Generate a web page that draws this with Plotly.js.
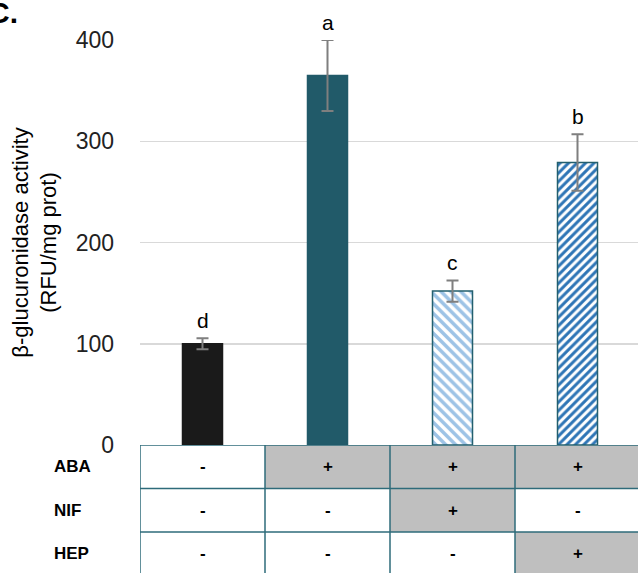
<!DOCTYPE html>
<html><head><meta charset="utf-8">
<script src="https://cdn.plot.ly/plotly-3.0.1.min.js"></script>
<style>html,body{margin:0;padding:0;background:#fff}#chart{width:638px;height:573px}</style>
</head><body><div id="chart"></div>
<script>
// ---- data ----
const conditions = ['Control', 'ABA', 'ABA + NIF', 'ABA + HEP'];
const activity = [100, 365, 152, 279];
const errors = [5.5, 35, 10.5, 28];
const letters = ['d', 'a', 'c', 'b'];
const rowLabels = ['ABA', 'NIF', 'HEP'];
const abaRow = ['-', '+', '+', '+'];
const nifRow = ['-', '-', '+', '-'];
const hepRow = ['-', '-', '-', '+'];
const yTicks = [0, 100, 200, 300, 400];

// ---- styling ----
const FONT = 'Liberation Sans, Arial, sans-serif';
const tableRows = [abaRow, nifRow, hepRow];
const rowIdx = [0, 1, 2];
const gridTeal = '#2E6B7A';
const barStyles = [
  {color: '#1A1A1A', line: '#1A1A1A', pattern: null},
  {color: '#215A69', line: '#215A69', pattern: null},
  {color: '#FFFFFF', line: '#235F6E', pattern: {shape: '\\', fgcolor: '#9DC3E6', bgcolor: '#FFFFFF', size: 7, solidity: 0.5}},
  {color: '#FFFFFF', line: '#235F6E', pattern: {shape: '/', fgcolor: '#2E75B6', bgcolor: '#FFFFFF', size: 6, solidity: 0.5}}
];

const barTraces = conditions.map((c, i) => {
  const m = {color: barStyles[i].color, line: {color: barStyles[i].line, width: 1.5}};
  if (barStyles[i].pattern) m.pattern = barStyles[i].pattern;
  return {
    type: 'bar', x: [c], y: [activity[i]], width: 0.32, marker: m,
    error_y: {type: 'data', array: [errors[i]], visible: true, color: '#7F7F7F', thickness: 2, width: 6},
    cliponaxis: false, hoverinfo: 'skip', xaxis: 'x', yaxis: 'y'
  };
});

const table = {
  type: 'heatmap', x: conditions, y: rowIdx,
  z: tableRows.map(r => r.map(s => s === '+' ? 1 : 0)),
  colorscale: [[0, '#FFFFFF'], [1, '#BFBFBF']], zmin: 0, zmax: 1,
  showscale: false, hoverinfo: 'skip', xaxis: 'x', yaxis: 'y2'
};

const annotations = [];
conditions.forEach((c, i) => {
  annotations.push({x: c, y: activity[i] + errors[i], xref: 'x', yref: 'y', text: letters[i],
    showarrow: false, yanchor: 'middle', yshift: 18, font: {family: FONT, size: 21, color: '#000'}});
});
tableRows.forEach((row, r) => {
  row.forEach((s, i) => {
    annotations.push({x: conditions[i], y: r, xref: 'x', yref: 'y2', text: '<b>' + s + '</b>',
      showarrow: false, font: {family: FONT, size: 17, color: '#000'}});
  });
  annotations.push({x: -0.177, xref: 'paper', y: r, yref: 'y2', text: '<b>' + rowLabels[r] + '</b>',
    xanchor: 'left', showarrow: false, font: {family: FONT, size: 17, color: '#000'}});
});
annotations.push({x: -0.241, xref: 'paper', y: 1 - 31 / 573, yref: 'paper', text: '<b>C.</b>',
  xanchor: 'right', yanchor: 'bottom', showarrow: false, font: {family: FONT, size: 30, color: '#000'}});

const shapes = [];
[-0.5, 0.5, 1.5, 2.5].forEach(xv => shapes.push({type: 'line', xref: 'x', yref: 'y2', x0: xv, x1: xv, y0: -0.5, y1: 2.6,
  line: {color: gridTeal, width: 1.5}, layer: 'above'}));
[-0.5, 0.5, 1.5].forEach(yv => shapes.push({type: 'line', xref: 'x', yref: 'y2', x0: -0.5, x1: 3.6, y0: yv, y1: yv,
  line: {color: gridTeal, width: 1.5}, layer: 'above'}));

const layout = {
  width: 638, height: 573,
  margin: {l: 140, r: 0, t: 0, b: 0},
  paper_bgcolor: '#fff', plot_bgcolor: '#fff',
  showlegend: false, barmode: 'overlay',
  font: {family: FONT, color: '#000'},
  xaxis: {range: [-0.5, 3.484], showticklabels: false, ticks: '', showgrid: false, zeroline: false,
    showline: false, fixedrange: true},
  yaxis: {domain: [128 / 573, 533 / 573], range: [0, 400], tickvals: yTicks, ticktext: yTicks.map(String),
    showgrid: true, gridcolor: '#D9D9D9', gridwidth: 1.5, zeroline: false, showline: false, ticks: '',
    ticklabelstandoff: 25, tickfont: {family: FONT, size: 23, color: '#222'},
    title: {text: 'β-glucuronidase activity<br>(RFU/mg prot)', font: {family: FONT, size: 22, color: '#000'}, standoff: 12}},
  yaxis2: {domain: [0, 128 / 573], range: [2.443, -0.5], visible: false, anchor: 'x'},
  annotations: annotations,
  shapes: shapes
};

Plotly.newPlot('chart', [table].concat(barTraces), layout, {displayModeBar: false, staticPlot: true});
</script>
</body></html>
